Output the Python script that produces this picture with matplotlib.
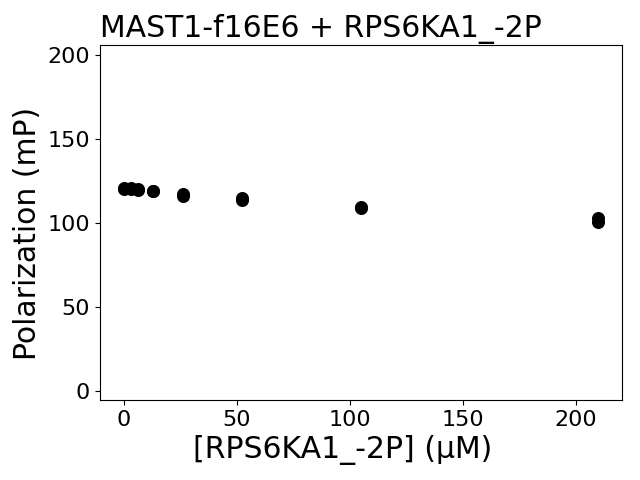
import matplotlib
matplotlib.use("Agg")
import matplotlib.pyplot as plt
import numpy as np

conc = [0, 0, 3.28, 3.28, 6.56, 6.56, 13.1, 13.1, 26.25, 26.25, 52.5, 52.5, 105, 105, 210, 210]
pol = [120.5, 121.0, 121.2, 120.6, 119.8, 120.2, 119.3, 119.0, 117.5, 116.2, 115.0, 113.6, 109.5, 109.0, 103.0, 100.6]

fig, ax = plt.subplots(figsize=(6.4, 4.8), dpi=100)
ax.scatter(conc, pol, s=70, color='black')
ax.set_ylim(-5, 206)
ax.set_title("MAST1-f16E6 + RPS6KA1_-2P", fontsize=21.5, loc='left')
ax.set_xlabel("[RPS6KA1_-2P] (μM)", fontsize=21.5)
ax.set_ylabel("Polarization (mP)", fontsize=21.5)
ax.xaxis.label.set_x(0.4655)
ax.yaxis.label.set_y(0.47)
ax.tick_params(labelsize=16)
fig.subplots_adjust(left=0.156, right=0.972, top=0.906, bottom=0.167)
fig.savefig("out.png")
